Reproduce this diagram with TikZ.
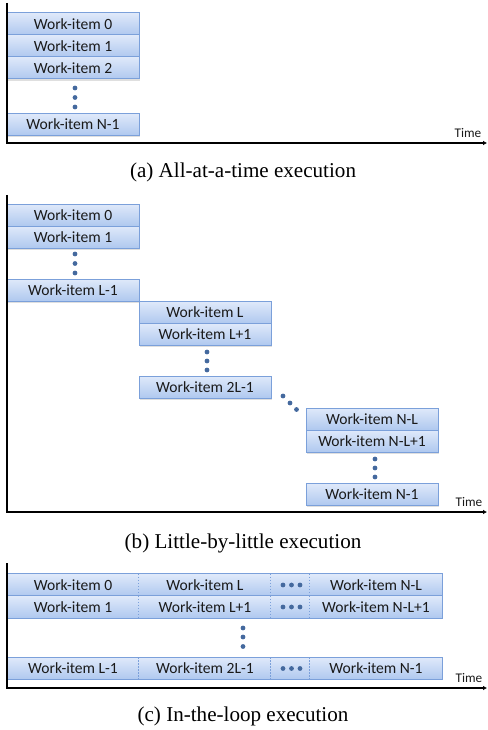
\documentclass[tikz,border=0pt]{standalone}
\usepackage{fontspec}
\setmainfont{Liberation Serif}
\newfontfamily\boxfont{Carlito}
\usepackage{tikz}
\usetikzlibrary{shapes,shadows,arrows.meta}

\definecolor{boxtop}{HTML}{DFE9FA}
\definecolor{boxbot}{HTML}{AFC8EF}
\definecolor{boxline}{HTML}{7BA0DA}
\definecolor{dotblue}{HTML}{44699E}
\definecolor{ink}{HTML}{1A1A1A}

\tikzset{
  item/.style={draw=boxline, line width=0.3mm, top color=boxtop, bottom color=boxbot,
    minimum width=39.6mm, minimum height=6.6mm, inner sep=0pt, text=ink,
    font=\boxfont\fontsize{13.3}{13.3}\selectfont,
    drop shadow={shadow xshift=0.25mm, shadow yshift=-0.5mm, opacity=0.25}},
  cell/.style={top color=boxtop, bottom color=boxbot, minimum height=6.6mm,
    inner sep=0pt, text=ink, font=\boxfont\fontsize{13.3}{13.3}\selectfont},
  axis/.style={line width=0.4mm, -{Latex[length=1.2mm,width=1.4mm]}},
  timelabel/.style={text=ink, font=\boxfont\fontsize{11.3}{11.3}\selectfont},
  caption/.style={font=\fontsize{18}{18}\selectfont},
  sep/.style={boxline, dashed, dash pattern=on 0.45mm off 0.45mm, line width=0.25mm}
}
\newcommand{\bluedot}[1]{\fill[dotblue] #1 circle (2.4);}

\begin{document}
\begin{tikzpicture}[x=0.3mm, y=-0.3mm]
    \useasboundingbox (0,0) rectangle (487,730);

    % (a) all at a time
    \coordinate (atop) at (7,3);
    \coordinate (aorig) at (7,143);
    \coordinate (aend) at (487,143);
    \node[item] (a0) at (73,24) {Work-item 0};
    \node[item] (a1) at (73,46) {Work-item 1};
    \node[item] (a2) at (73,68) {Work-item 2};
    \node[item] (an) at (73,124.5) {Work-item N-1};
    \foreach \y in {88,97.5,107} {\bluedot{(75,\y)}}
    \draw[axis] (atop) -- (aorig) -- (aend);
    \node[timelabel] (atime) at (468,133) {Time};
    \node[caption] (acap) at (243,172) {(a) All-at-a-time execution};

    % (b) little by little
    \coordinate (btop) at (7,195);
    \coordinate (borig) at (7,512);
    \coordinate (bend) at (487,512);
    \node[item] (b0) at (73,215) {Work-item 0};
    \node[item] (b1) at (73,237) {Work-item 1};
    \node[item] (bl) at (73,290) {Work-item L-1};
    \node[item] (bL) at (205,312.5) {Work-item L};
    \node[item] (bL1) at (205,334.5) {Work-item L+1};
    \node[item] (b2L) at (205,387) {Work-item 2L-1};
    \node[item] (bNL) at (372,419) {Work-item N-L};
    \node[item] (bNL1) at (372,441) {Work-item N-L+1};
    \node[item] (bn) at (372,494.5) {Work-item N-1};
    \foreach \y in {254,263.5,273} {\bluedot{(75,\y)}}
    \foreach \y in {352,361,370} {\bluedot{(207,\y)}}
    \foreach \x/\y in {283/396,290/403,296.5/409.5} {\bluedot{(\x,\y)}}
    \foreach \y in {459,468,477} {\bluedot{(375,\y)}}
    \draw[axis] (btop) -- (borig) -- (bend);
    \node[timelabel] (btime) at (469,502) {Time};
    \node[caption] (bcap) at (243,543) {(b) Little-by-little execution};

    % (c) in the loop
    \coordinate (ctop) at (7,563);
    \coordinate (corig) at (7,688);
    \coordinate (cend) at (487,688);
    \foreach \r/\y/\ta/\tb/\td in {0/585/Work-item 0/Work-item L/Work-item N-L,
                                   1/607/Work-item 1/Work-item L+1/Work-item N-L+1,
                                   2/668.5/Work-item L-1/Work-item 2L-1/Work-item N-1} {
      \node[cell, minimum width=39.6mm] (c\r a) at (73,\y) {\ta};
      \node[cell, minimum width=39.6mm] (c\r b) at (205,\y) {\tb};
      \node[cell, minimum width=11.7mm] (c\r c) at (290.5,\y) {};
      \node[cell, minimum width=39.6mm] (c\r d) at (376,\y) {\td};
      \foreach \x in {283,291.5,300} {\bluedot{(\x,\y)}}
      \draw[sep] (c\r b.north west) -- (c\r b.south west);
      \draw[sep] (c\r c.north west) -- (c\r c.south west);
      \draw[sep] (c\r d.north west) -- (c\r d.south west);
      \draw[boxline, line width=0.3mm] (c\r a.north west) rectangle (c\r d.south east);
    }
    \foreach \y in {628,637,646.5} {\bluedot{(243,\y)}}
    \draw[axis] (ctop) -- (corig) -- (cend);
    \node[timelabel] (ctime) at (469,678) {Time};
    \node[caption] (ccap) at (243,716) {(c) In-the-loop execution};
  \end{tikzpicture}
\end{document}
